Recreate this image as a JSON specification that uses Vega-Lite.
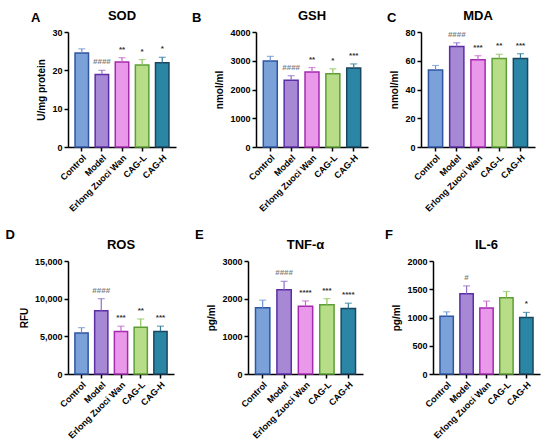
{
  "$schema": "https://vega.github.io/schema/vega-lite/v6.json",
  "background": "white",
  "padding": {"left": 5, "top": 10, "right": 5, "bottom": 5},
  "datasets": {
    "assay": [
      {"panel": "SOD", "group": "Control", "value": 24.5, "err": 25.6, "sig": ""},
      {"panel": "SOD", "group": "Model", "value": 18.9, "err": 20.0, "sig": "####"},
      {"panel": "SOD", "group": "Erlong Zuoci Wan", "value": 22.2, "err": 23.3, "sig": "**"},
      {"panel": "SOD", "group": "CAG-L", "value": 21.4, "err": 22.8, "sig": "*"},
      {"panel": "SOD", "group": "CAG-H", "value": 22.0, "err": 23.4, "sig": "*"},
      {"panel": "GSH", "group": "Control", "value": 2990, "err": 3150, "sig": ""},
      {"panel": "GSH", "group": "Model", "value": 2320, "err": 2480, "sig": "####"},
      {"panel": "GSH", "group": "Erlong Zuoci Wan", "value": 2610, "err": 2765, "sig": "**"},
      {"panel": "GSH", "group": "CAG-L", "value": 2550, "err": 2720, "sig": "*"},
      {"panel": "GSH", "group": "CAG-H", "value": 2750, "err": 2890, "sig": "***"},
      {"panel": "MDA", "group": "Control", "value": 53.6, "err": 56.7, "sig": ""},
      {"panel": "MDA", "group": "Model", "value": 69.9, "err": 72.5, "sig": "####"},
      {"panel": "MDA", "group": "Erlong Zuoci Wan", "value": 60.7, "err": 63.5, "sig": "***"},
      {"panel": "MDA", "group": "CAG-L", "value": 61.6, "err": 64.5, "sig": "**"},
      {"panel": "MDA", "group": "CAG-H", "value": 61.6, "err": 64.9, "sig": "***"},
      {"panel": "ROS", "group": "Control", "value": 5450, "err": 6150, "sig": ""},
      {"panel": "ROS", "group": "Model", "value": 8400, "err": 10000, "sig": "####"},
      {"panel": "ROS", "group": "Erlong Zuoci Wan", "value": 5650, "err": 6350, "sig": "***"},
      {"panel": "ROS", "group": "CAG-L", "value": 6200, "err": 7300, "sig": "**"},
      {"panel": "ROS", "group": "CAG-H", "value": 5650, "err": 6350, "sig": "***"},
      {"panel": "TNF", "group": "Control", "value": 1760, "err": 1960, "sig": ""},
      {"panel": "TNF", "group": "Model", "value": 2240, "err": 2460, "sig": "####"},
      {"panel": "TNF", "group": "Erlong Zuoci Wan", "value": 1800, "err": 1940, "sig": "****"},
      {"panel": "TNF", "group": "CAG-L", "value": 1840, "err": 2000, "sig": "***"},
      {"panel": "TNF", "group": "CAG-H", "value": 1740, "err": 1880, "sig": "****"},
      {"panel": "IL6", "group": "Control", "value": 1020, "err": 1100, "sig": ""},
      {"panel": "IL6", "group": "Model", "value": 1420, "err": 1560, "sig": "#"},
      {"panel": "IL6", "group": "Erlong Zuoci Wan", "value": 1170, "err": 1290, "sig": ""},
      {"panel": "IL6", "group": "CAG-L", "value": 1350, "err": 1460, "sig": ""},
      {"panel": "IL6", "group": "CAG-H", "value": 1000, "err": 1090, "sig": "*"}
    ]
  },
  "vconcat": [
    {
      "spacing": 18,
      "hconcat": [
        {
          "spacing": 15,
          "hconcat": [
            {
              "title": {"text": "A", "anchor": "start", "frame": "bounds", "dx": -6, "dy": 20},
              "hconcat": [
                {
                  "width": 108, "height": 115,
                  "title": {"text": "SOD"},
                  "data": {"name": "assay"},
                  "transform": [{"filter": "datum.panel === 'SOD'"}],
                  "encoding": {
                    "x": {"field": "group", "type": "nominal", "sort": ["Control", "Model", "Erlong Zuoci Wan", "CAG-L", "CAG-H"], "scale": {"paddingInner": 0.33, "paddingOuter": 0.35}, "axis": {"title": null, "labelAngle": -45}},
                    "y": {"field": "value", "type": "quantitative", "scale": {"domain": [0, 30], "nice": false}, "axis": {"title": "U/mg protein", "values": [0, 10, 20, 30]}}
                  },
                  "layer": [
                    {
                      "mark": {"type": "bar", "strokeWidth": 1.5},
                      "encoding": {
                        "fill": {"field": "group", "type": "nominal", "legend": null, "scale": {"domain": ["Control", "Model", "Erlong Zuoci Wan", "CAG-L", "CAG-H"], "range": ["#7ba2d8", "#a688d4", "#ea98ea", "#b8dd88", "#2b86a6"]}},
                        "stroke": {"field": "group", "type": "nominal", "legend": null, "scale": {"domain": ["Control", "Model", "Erlong Zuoci Wan", "CAG-L", "CAG-H"], "range": ["#2f55a3", "#5b2ea6", "#a52ab0", "#5c9e35", "#1a4660"]}}
                      }
                    },
                    {
                      "mark": {"type": "rule", "strokeWidth": 1.2},
                      "encoding": {"y2": {"field": "err"}, "color": {"field": "group", "type": "nominal", "legend": null, "scale": {"domain": ["Control", "Model", "Erlong Zuoci Wan", "CAG-L", "CAG-H"], "range": ["#6d93cf", "#8e6cc6", "#c565c9", "#8cc35a", "#2f7a9a"]}}}
                    },
                    {
                      "mark": {"type": "tick", "thickness": 1.2, "size": 7},
                      "encoding": {"y": {"field": "err", "type": "quantitative", "scale": {"domain": [0, 30], "nice": false}, "axis": {"title": "U/mg protein", "values": [0, 10, 20, 30]}}, "color": {"field": "group", "type": "nominal", "legend": null, "scale": {"domain": ["Control", "Model", "Erlong Zuoci Wan", "CAG-L", "CAG-H"], "range": ["#6d93cf", "#8e6cc6", "#c565c9", "#8cc35a", "#2f7a9a"]}}}
                    },
                    {
                      "mark": {"type": "text", "baseline": "alphabetic", "dy": -6, "fontSize": 8, "fontWeight": "bold"},
                      "encoding": {"y": {"field": "err", "type": "quantitative", "scale": {"domain": [0, 30], "nice": false}, "axis": {"title": "U/mg protein", "values": [0, 10, 20, 30]}}, "text": {"field": "sig"}, "color": {"condition": {"test": "indexof(datum.sig, '#') >= 0", "value": "#808080"}, "value": "#333333"}}
                    }
                  ]
                }
              ]
            },
            {
              "title": {"text": "B", "anchor": "start", "frame": "bounds", "dx": -23, "dy": 20},
              "hconcat": [
                {
                  "width": 112, "height": 115,
                  "title": {"text": "GSH"},
                  "data": {"name": "assay"},
                  "transform": [{"filter": "datum.panel === 'GSH'"}],
                  "encoding": {
                    "x": {"field": "group", "type": "nominal", "sort": ["Control", "Model", "Erlong Zuoci Wan", "CAG-L", "CAG-H"], "scale": {"paddingInner": 0.33, "paddingOuter": 0.35}, "axis": {"title": null, "labelAngle": -45}},
                    "y": {"field": "value", "type": "quantitative", "scale": {"domain": [0, 4000], "nice": false}, "axis": {"title": "nmol/ml", "values": [0, 1000, 2000, 3000, 4000], "format": "d"}}
                  },
                  "layer": [
                    {
                      "mark": {"type": "bar", "strokeWidth": 1.5},
                      "encoding": {
                        "fill": {"field": "group", "type": "nominal", "legend": null, "scale": {"domain": ["Control", "Model", "Erlong Zuoci Wan", "CAG-L", "CAG-H"], "range": ["#7ba2d8", "#a688d4", "#ea98ea", "#b8dd88", "#2b86a6"]}},
                        "stroke": {"field": "group", "type": "nominal", "legend": null, "scale": {"domain": ["Control", "Model", "Erlong Zuoci Wan", "CAG-L", "CAG-H"], "range": ["#2f55a3", "#5b2ea6", "#a52ab0", "#5c9e35", "#1a4660"]}}
                      }
                    },
                    {
                      "mark": {"type": "rule", "strokeWidth": 1.2},
                      "encoding": {"y2": {"field": "err"}, "color": {"field": "group", "type": "nominal", "legend": null, "scale": {"domain": ["Control", "Model", "Erlong Zuoci Wan", "CAG-L", "CAG-H"], "range": ["#6d93cf", "#8e6cc6", "#c565c9", "#8cc35a", "#2f7a9a"]}}}
                    },
                    {
                      "mark": {"type": "tick", "thickness": 1.2, "size": 7},
                      "encoding": {"y": {"field": "err", "type": "quantitative", "scale": {"domain": [0, 4000], "nice": false}, "axis": {"title": "nmol/ml", "values": [0, 1000, 2000, 3000, 4000], "format": "d"}}, "color": {"field": "group", "type": "nominal", "legend": null, "scale": {"domain": ["Control", "Model", "Erlong Zuoci Wan", "CAG-L", "CAG-H"], "range": ["#6d93cf", "#8e6cc6", "#c565c9", "#8cc35a", "#2f7a9a"]}}}
                    },
                    {
                      "mark": {"type": "text", "baseline": "alphabetic", "dy": -6, "fontSize": 8, "fontWeight": "bold"},
                      "encoding": {"y": {"field": "err", "type": "quantitative", "scale": {"domain": [0, 4000], "nice": false}, "axis": {"title": "nmol/ml", "values": [0, 1000, 2000, 3000, 4000], "format": "d"}}, "text": {"field": "sig"}, "color": {"condition": {"test": "indexof(datum.sig, '#') >= 0", "value": "#808080"}, "value": "#333333"}}
                    }
                  ]
                }
              ]
            }
          ]
        },
        {
          "title": {"text": "C", "anchor": "start", "frame": "bounds", "dx": -3, "dy": 20},
          "hconcat": [
            {
              "width": 114, "height": 115,
              "title": {"text": "MDA"},
              "data": {"name": "assay"},
              "transform": [{"filter": "datum.panel === 'MDA'"}],
              "encoding": {
                "x": {"field": "group", "type": "nominal", "sort": ["Control", "Model", "Erlong Zuoci Wan", "CAG-L", "CAG-H"], "scale": {"paddingInner": 0.33, "paddingOuter": 0.35}, "axis": {"title": null, "labelAngle": -45}},
                "y": {"field": "value", "type": "quantitative", "scale": {"domain": [0, 80], "nice": false}, "axis": {"title": "nmol/ml", "values": [0, 20, 40, 60, 80]}}
              },
              "layer": [
                {
                  "mark": {"type": "bar", "strokeWidth": 1.5},
                  "encoding": {
                    "fill": {"field": "group", "type": "nominal", "legend": null, "scale": {"domain": ["Control", "Model", "Erlong Zuoci Wan", "CAG-L", "CAG-H"], "range": ["#7ba2d8", "#a688d4", "#ea98ea", "#b8dd88", "#2b86a6"]}},
                    "stroke": {"field": "group", "type": "nominal", "legend": null, "scale": {"domain": ["Control", "Model", "Erlong Zuoci Wan", "CAG-L", "CAG-H"], "range": ["#2f55a3", "#5b2ea6", "#a52ab0", "#5c9e35", "#1a4660"]}}
                  }
                },
                {
                  "mark": {"type": "rule", "strokeWidth": 1.2},
                  "encoding": {"y2": {"field": "err"}, "color": {"field": "group", "type": "nominal", "legend": null, "scale": {"domain": ["Control", "Model", "Erlong Zuoci Wan", "CAG-L", "CAG-H"], "range": ["#6d93cf", "#8e6cc6", "#c565c9", "#8cc35a", "#2f7a9a"]}}}
                },
                {
                  "mark": {"type": "tick", "thickness": 1.2, "size": 7},
                  "encoding": {"y": {"field": "err", "type": "quantitative", "scale": {"domain": [0, 80], "nice": false}, "axis": {"title": "nmol/ml", "values": [0, 20, 40, 60, 80]}}, "color": {"field": "group", "type": "nominal", "legend": null, "scale": {"domain": ["Control", "Model", "Erlong Zuoci Wan", "CAG-L", "CAG-H"], "range": ["#6d93cf", "#8e6cc6", "#c565c9", "#8cc35a", "#2f7a9a"]}}}
                },
                {
                  "mark": {"type": "text", "baseline": "alphabetic", "dy": -6, "fontSize": 8, "fontWeight": "bold"},
                  "encoding": {"y": {"field": "err", "type": "quantitative", "scale": {"domain": [0, 80], "nice": false}, "axis": {"title": "nmol/ml", "values": [0, 20, 40, 60, 80]}}, "text": {"field": "sig"}, "color": {"condition": {"test": "indexof(datum.sig, '#') >= 0", "value": "#808080"}, "value": "#333333"}}
                }
              ]
            }
          ]
        }
      ]
    },
    {
      "spacing": 21,
      "hconcat": [
        {
          "spacing": 20,
          "hconcat": [
            {
              "title": {"text": "D", "anchor": "start", "frame": "bounds", "dx": -14, "dy": 8},
              "hconcat": [
                {
                  "width": 106, "height": 113,
                  "title": {"text": "ROS"},
                  "data": {"name": "assay"},
                  "transform": [{"filter": "datum.panel === 'ROS'"}],
                  "encoding": {
                    "x": {"field": "group", "type": "nominal", "sort": ["Control", "Model", "Erlong Zuoci Wan", "CAG-L", "CAG-H"], "scale": {"paddingInner": 0.33, "paddingOuter": 0.35}, "axis": {"title": null, "labelAngle": -45}},
                    "y": {"field": "value", "type": "quantitative", "scale": {"domain": [0, 15000], "nice": false}, "axis": {"title": "RFU", "values": [0, 5000, 10000, 15000], "format": ",.0f"}}
                  },
                  "layer": [
                    {
                      "mark": {"type": "bar", "strokeWidth": 1.5},
                      "encoding": {
                        "fill": {"field": "group", "type": "nominal", "legend": null, "scale": {"domain": ["Control", "Model", "Erlong Zuoci Wan", "CAG-L", "CAG-H"], "range": ["#7ba2d8", "#a688d4", "#ea98ea", "#b8dd88", "#2b86a6"]}},
                        "stroke": {"field": "group", "type": "nominal", "legend": null, "scale": {"domain": ["Control", "Model", "Erlong Zuoci Wan", "CAG-L", "CAG-H"], "range": ["#2f55a3", "#5b2ea6", "#a52ab0", "#5c9e35", "#1a4660"]}}
                      }
                    },
                    {
                      "mark": {"type": "rule", "strokeWidth": 1.2},
                      "encoding": {"y2": {"field": "err"}, "color": {"field": "group", "type": "nominal", "legend": null, "scale": {"domain": ["Control", "Model", "Erlong Zuoci Wan", "CAG-L", "CAG-H"], "range": ["#6d93cf", "#8e6cc6", "#c565c9", "#8cc35a", "#2f7a9a"]}}}
                    },
                    {
                      "mark": {"type": "tick", "thickness": 1.2, "size": 7},
                      "encoding": {"y": {"field": "err", "type": "quantitative", "scale": {"domain": [0, 15000], "nice": false}, "axis": {"title": "RFU", "values": [0, 5000, 10000, 15000], "format": ",.0f"}}, "color": {"field": "group", "type": "nominal", "legend": null, "scale": {"domain": ["Control", "Model", "Erlong Zuoci Wan", "CAG-L", "CAG-H"], "range": ["#6d93cf", "#8e6cc6", "#c565c9", "#8cc35a", "#2f7a9a"]}}}
                    },
                    {
                      "mark": {"type": "text", "baseline": "alphabetic", "dy": -6, "fontSize": 8, "fontWeight": "bold"},
                      "encoding": {"y": {"field": "err", "type": "quantitative", "scale": {"domain": [0, 15000], "nice": false}, "axis": {"title": "RFU", "values": [0, 5000, 10000, 15000], "format": ",.0f"}}, "text": {"field": "sig"}, "color": {"condition": {"test": "indexof(datum.sig, '#') >= 0", "value": "#808080"}, "value": "#333333"}}
                    }
                  ]
                }
              ]
            },
            {
              "title": {"text": "E", "anchor": "start", "frame": "bounds", "dx": -12, "dy": 8},
              "hconcat": [
                {
                  "width": 115, "height": 113,
                  "title": {"text": "TNF-α"},
                  "data": {"name": "assay"},
                  "transform": [{"filter": "datum.panel === 'TNF'"}],
                  "encoding": {
                    "x": {"field": "group", "type": "nominal", "sort": ["Control", "Model", "Erlong Zuoci Wan", "CAG-L", "CAG-H"], "scale": {"paddingInner": 0.33, "paddingOuter": 0.35}, "axis": {"title": null, "labelAngle": -45}},
                    "y": {"field": "value", "type": "quantitative", "scale": {"domain": [0, 3000], "nice": false}, "axis": {"title": "pg/ml", "values": [0, 1000, 2000, 3000], "format": "d"}}
                  },
                  "layer": [
                    {
                      "mark": {"type": "bar", "strokeWidth": 1.5},
                      "encoding": {
                        "fill": {"field": "group", "type": "nominal", "legend": null, "scale": {"domain": ["Control", "Model", "Erlong Zuoci Wan", "CAG-L", "CAG-H"], "range": ["#7ba2d8", "#a688d4", "#ea98ea", "#b8dd88", "#2b86a6"]}},
                        "stroke": {"field": "group", "type": "nominal", "legend": null, "scale": {"domain": ["Control", "Model", "Erlong Zuoci Wan", "CAG-L", "CAG-H"], "range": ["#2f55a3", "#5b2ea6", "#a52ab0", "#5c9e35", "#1a4660"]}}
                      }
                    },
                    {
                      "mark": {"type": "rule", "strokeWidth": 1.2},
                      "encoding": {"y2": {"field": "err"}, "color": {"field": "group", "type": "nominal", "legend": null, "scale": {"domain": ["Control", "Model", "Erlong Zuoci Wan", "CAG-L", "CAG-H"], "range": ["#6d93cf", "#8e6cc6", "#c565c9", "#8cc35a", "#2f7a9a"]}}}
                    },
                    {
                      "mark": {"type": "tick", "thickness": 1.2, "size": 7},
                      "encoding": {"y": {"field": "err", "type": "quantitative", "scale": {"domain": [0, 3000], "nice": false}, "axis": {"title": "pg/ml", "values": [0, 1000, 2000, 3000], "format": "d"}}, "color": {"field": "group", "type": "nominal", "legend": null, "scale": {"domain": ["Control", "Model", "Erlong Zuoci Wan", "CAG-L", "CAG-H"], "range": ["#6d93cf", "#8e6cc6", "#c565c9", "#8cc35a", "#2f7a9a"]}}}
                    },
                    {
                      "mark": {"type": "text", "baseline": "alphabetic", "dy": -6, "fontSize": 8, "fontWeight": "bold"},
                      "encoding": {"y": {"field": "err", "type": "quantitative", "scale": {"domain": [0, 3000], "nice": false}, "axis": {"title": "pg/ml", "values": [0, 1000, 2000, 3000], "format": "d"}}, "text": {"field": "sig"}, "color": {"condition": {"test": "indexof(datum.sig, '#') >= 0", "value": "#808080"}, "value": "#333333"}}
                    }
                  ]
                }
              ]
            }
          ]
        },
        {
          "title": {"text": "F", "anchor": "start", "frame": "bounds", "dx": -7, "dy": 8},
          "hconcat": [
            {
              "width": 107, "height": 113,
              "title": {"text": "IL-6"},
              "data": {"name": "assay"},
              "transform": [{"filter": "datum.panel === 'IL6'"}],
              "encoding": {
                "x": {"field": "group", "type": "nominal", "sort": ["Control", "Model", "Erlong Zuoci Wan", "CAG-L", "CAG-H"], "scale": {"paddingInner": 0.33, "paddingOuter": 0.35}, "axis": {"title": null, "labelAngle": -45}},
                "y": {"field": "value", "type": "quantitative", "scale": {"domain": [0, 2000], "nice": false}, "axis": {"title": "pg/ml", "values": [0, 500, 1000, 1500, 2000], "format": "d"}}
              },
              "layer": [
                {
                  "mark": {"type": "bar", "strokeWidth": 1.5},
                  "encoding": {
                    "fill": {"field": "group", "type": "nominal", "legend": null, "scale": {"domain": ["Control", "Model", "Erlong Zuoci Wan", "CAG-L", "CAG-H"], "range": ["#7ba2d8", "#a688d4", "#ea98ea", "#b8dd88", "#2b86a6"]}},
                    "stroke": {"field": "group", "type": "nominal", "legend": null, "scale": {"domain": ["Control", "Model", "Erlong Zuoci Wan", "CAG-L", "CAG-H"], "range": ["#2f55a3", "#5b2ea6", "#a52ab0", "#5c9e35", "#1a4660"]}}
                  }
                },
                {
                  "mark": {"type": "rule", "strokeWidth": 1.2},
                  "encoding": {"y2": {"field": "err"}, "color": {"field": "group", "type": "nominal", "legend": null, "scale": {"domain": ["Control", "Model", "Erlong Zuoci Wan", "CAG-L", "CAG-H"], "range": ["#6d93cf", "#8e6cc6", "#c565c9", "#8cc35a", "#2f7a9a"]}}}
                },
                {
                  "mark": {"type": "tick", "thickness": 1.2, "size": 7},
                  "encoding": {"y": {"field": "err", "type": "quantitative", "scale": {"domain": [0, 2000], "nice": false}, "axis": {"title": "pg/ml", "values": [0, 500, 1000, 1500, 2000], "format": "d"}}, "color": {"field": "group", "type": "nominal", "legend": null, "scale": {"domain": ["Control", "Model", "Erlong Zuoci Wan", "CAG-L", "CAG-H"], "range": ["#6d93cf", "#8e6cc6", "#c565c9", "#8cc35a", "#2f7a9a"]}}}
                },
                {
                  "mark": {"type": "text", "baseline": "alphabetic", "dy": -6, "fontSize": 8, "fontWeight": "bold"},
                  "encoding": {"y": {"field": "err", "type": "quantitative", "scale": {"domain": [0, 2000], "nice": false}, "axis": {"title": "pg/ml", "values": [0, 500, 1000, 1500, 2000], "format": "d"}}, "text": {"field": "sig"}, "color": {"condition": {"test": "indexof(datum.sig, '#') >= 0", "value": "#808080"}, "value": "#333333"}}
                }
              ]
            }
          ]
        }
      ]
    }
  ],
  "spacing": 15,
  "config": {
    "font": "Liberation Sans",
    "view": {"stroke": null},
    "title": {"fontSize": 13, "fontWeight": "bold", "color": "black", "frame": "group", "offset": 5},
    "axis": {
      "grid": false,
      "domainColor": "black",
      "domainWidth": 1.5,
      "tickColor": "black",
      "tickWidth": 1.5,
      "tickSize": 4,
      "labelFontSize": 9,
      "labelFontWeight": "bold",
      "labelColor": "black",
      "titleFontSize": 10,
      "titleFontWeight": "bold",
      "titleColor": "black",
      "labelPadding": 2,
      "titlePadding": 5
    }
  }
}
